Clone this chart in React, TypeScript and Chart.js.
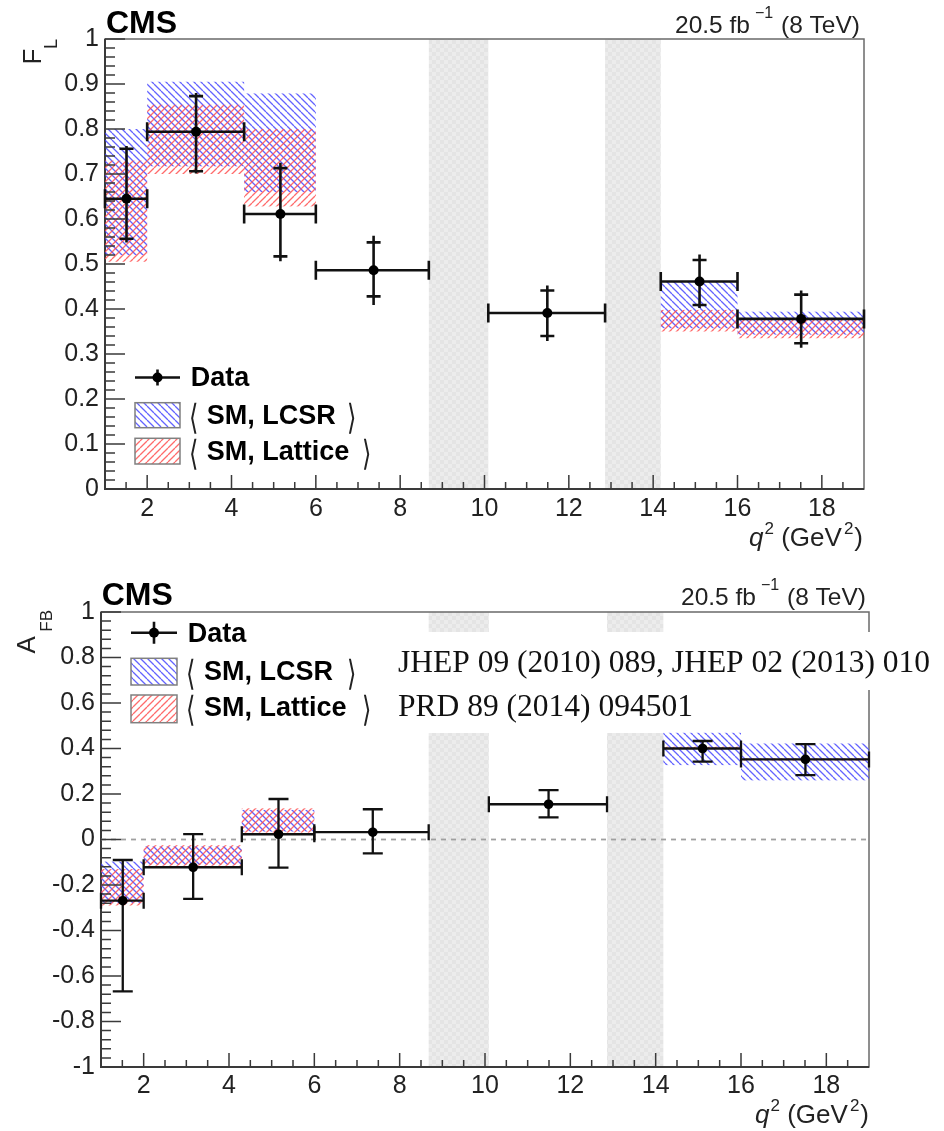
import React, { useEffect, useRef } from "react";
import { Chart, registerables } from "chart.js";

Chart.register(...registerables);

// ---------------- data ----------------
const binLow = [1, 2, 4.3, 6, 10.09, 14.18, 16];
const binHigh = [2, 4.3, 6, 8.68, 12.86, 16, 19];
const binCenter = [1.51, 3.16, 5.16, 7.37, 11.49, 15.1, 17.51];
const vetoLow = [8.68, 12.86];
const vetoHigh = [10.09, 14.18];
const xTicks = [2, 4, 6, 8, 10, 12, 14, 16, 18];

const flValue = [0.645, 0.794, 0.611, 0.486, 0.391, 0.461, 0.378];
const flStatHigh = [0.756, 0.873, 0.713, 0.548, 0.441, 0.509, 0.432];
const flStatLow = [0.556, 0.706, 0.517, 0.428, 0.34, 0.409, 0.324];
const flTotHigh = [0.762, 0.88, 0.725, 0.563, 0.452, 0.521, 0.441];
const flTotLow = [0.548, 0.701, 0.506, 0.409, 0.329, 0.402, 0.314];
const flLcsrLow = [0.52, 0.717, 0.66, null, null, 0.357, 0.343];
const flLcsrHigh = [0.8, 0.905, 0.879, null, null, 0.461, 0.394];
const flLatLow = [0.505, 0.7, 0.628, null, null, 0.35, 0.335];
const flLatHigh = [0.73, 0.854, 0.8, null, null, 0.398, 0.376];
const flTicks = [0, 0.1, 0.2, 0.3, 0.4, 0.5, 0.6, 0.7, 0.8, 0.9, 1];

const afbValue = [-0.269, -0.122, 0.023, 0.032, 0.155, 0.4, 0.352];
const afbTotHigh = [-0.09, 0.024, 0.178, 0.133, 0.217, 0.433, 0.419];
const afbTotLow = [-0.668, -0.261, -0.124, -0.061, 0.097, 0.342, 0.283];
const afbLcsrLow = [-0.28, -0.11, 0.035, null, null, 0.327, 0.26];
const afbLcsrHigh = [-0.097, -0.03, 0.13, null, null, 0.469, 0.422];
const afbLatLow = [-0.29, -0.115, 0.03, null, null, 0.398, 0.347];
const afbLatHigh = [-0.13, -0.025, 0.137, null, null, 0.408, 0.357];
const afbTicks = [-1, -0.8, -0.6, -0.4, -0.2, 0, 0.2, 0.4, 0.6, 0.8, 1];

const legendLabels = ["Data", "SM, LCSR", "SM, Lattice"];
const refLines = ["JHEP 09 (2010) 089, JHEP 02 (2013) 010", "PRD 89 (2014) 094501"];

// ---------------- styling ----------------
const SANS = "'Liberation Sans', Arial, Helvetica, sans-serif";
const SERIF = "'Liberation Serif', 'Times New Roman', serif";
const BRK = "'DejaVu Sans', sans-serif";
const W = 944;

function makePatterns(ctx: any) {
  const mk = (w: number, h: number, draw: (g: any) => void) => {
    const c = document.createElement("canvas");
    c.width = w;
    c.height = h;
    draw(c.getContext("2d"));
    return ctx.createPattern(c, "repeat");
  };
  const hatch = (color: string, back: boolean) =>
    mk(7, 7, (g) => {
      g.strokeStyle = color;
      g.lineWidth = 1.3;
      g.beginPath();
      for (const o of [-7, 0, 7]) {
        if (back) {
          g.moveTo(o, 0);
          g.lineTo(o + 7, 7);
        } else {
          g.moveTo(o, 7);
          g.lineTo(o + 7, 0);
        }
      }
      g.stroke();
    });
  return {
    blue: hatch("rgba(60,60,255,0.8)", true),
    red: hatch("rgba(255,70,70,0.8)", false),
    gray: mk(8, 8, (g) => {
      g.fillStyle = "#e4e4e4";
      g.fillRect(0, 0, 8, 8);
      g.fillStyle = "#ececec";
      g.fillRect(0, 0, 4, 4);
      g.fillRect(4, 4, 4, 4);
    }),
  };
}

type Seg = { t: string; font: string; dy?: number; dx?: number };
function drawSegs(ctx: any, segs: Seg[], x: number, y: number, align: "left" | "right") {
  ctx.textAlign = "left";
  ctx.textBaseline = "alphabetic";
  const widths = segs.map((s) => {
    ctx.font = s.font;
    return ctx.measureText(s.t).width + (s.dx || 0);
  });
  const total = widths.reduce((a, b) => a + b, 0);
  let cx = align === "right" ? x - total : x;
  segs.forEach((s, i) => {
    ctx.font = s.font;
    ctx.fillText(s.t, cx + (s.dx || 0), y + (s.dy || 0));
    cx += widths[i];
  });
}

type Cfg = {
  kind: "fl" | "afb";
  height: number;
  frame: { left: number; top: number; right: number; bottom: number };
  yMin: number;
  yMax: number;
  yTicks: number[];
  yMinor: number;
  value: number[];
  totHigh: number[];
  totLow: number[];
  statHigh?: number[];
  statLow?: number[];
  lcsrLow: (number | null)[];
  lcsrHigh: (number | null)[];
  latLow: (number | null)[];
  latHigh: (number | null)[];
  xLabelPad: number;
};

function buildChart(canvas: HTMLCanvasElement, P: Cfg) {
  const pat = makePatterns(canvas.getContext("2d"));
  const isFL = P.kind === "fl";

  const plugin = {
    id: "rootStyle",
    beforeDatasetsDraw(chart: any) {
      const { ctx, chartArea: a } = chart;
      const xs = chart.scales.x;
      const ys = chart.scales.y;
      const px = (v: number) => xs.getPixelForValue(v);
      const py = (v: number) => ys.getPixelForValue(v);
      ctx.save();
      // veto regions
      ctx.fillStyle = pat.gray;
      vetoLow.forEach((lo, i) => {
        const x0 = px(lo);
        const x1 = px(vetoHigh[i]);
        ctx.fillRect(x0, a.top, x1 - x0, a.bottom - a.top);
      });
      // frame
      ctx.strokeStyle = "#6a6a6a";
      ctx.lineWidth = 1.5;
      ctx.strokeRect(a.left, a.top, a.right - a.left, a.bottom - a.top);
      ctx.strokeStyle = "#3a3a3a";
      ctx.lineWidth = 2;
      ctx.beginPath();
      ctx.moveTo(a.left, a.top);
      ctx.lineTo(a.left, a.bottom);
      ctx.lineTo(a.right, a.bottom);
      ctx.stroke();

      if (!isFL) {
        // white box of pasted reference text
        ctx.fillStyle = "#ffffff";
        ctx.fillRect(385, 72, 560, 58);
        ctx.fillRect(385, 130, 315, 43);
        // zero line
        ctx.strokeStyle = "#a0a0a0";
        ctx.lineWidth = 1.8;
        ctx.setLineDash([5, 5]);
        ctx.beginPath();
        ctx.moveTo(a.left, py(0));
        ctx.lineTo(a.right, py(0));
        ctx.stroke();
        ctx.setLineDash([]);
      }

      // prediction bands
      const band = (lo: (number | null)[], hi: (number | null)[], fill: any) => {
        ctx.fillStyle = fill;
        lo.forEach((l, i) => {
          const h = hi[i];
          if (l === null || h === null) return;
          const x0 = px(binLow[i]);
          const x1 = px(binHigh[i]);
          ctx.fillRect(x0, py(h), x1 - x0, py(l) - py(h));
        });
      };
      band(P.lcsrLow, P.lcsrHigh, pat.blue);
      band(P.latLow, P.latHigh, pat.red);

      // ticks (inside)
      ctx.strokeStyle = "#3a3a3a";
      ctx.lineWidth = 1.5;
      ctx.beginPath();
      const yMaj = 20;
      const yMin = 10;
      const xMaj = 14;
      const xMin = 7;
      for (let v = P.yMin; v <= P.yMax + 1e-9; v += P.yMinor) {
        const major = P.yTicks.some((t) => Math.abs(t - v) < 1e-6);
        const y = py(v);
        ctx.moveTo(a.left, y);
        ctx.lineTo(a.left + (major ? yMaj : yMin), y);
      }
      for (let v = 1.5; v < 19; v += 0.5) {
        const major = xTicks.some((t) => Math.abs(t - v) < 1e-6);
        const x = px(v);
        ctx.moveTo(x, a.bottom);
        ctx.lineTo(x, a.bottom - (major ? xMaj : xMin));
      }
      ctx.stroke();

      // error bars
      ctx.strokeStyle = "#111";
      const lw = isFL ? 2.6 : 2.3;
      const capV = isFL ? 7 : 10;
      const capH = isFL ? 9.5 : 8;
      P.value.forEach((v, i) => {
        const y = py(v);
        const x0 = px(binLow[i]);
        const x1 = px(binHigh[i]);
        const xc = px(binCenter[i]);
        ctx.lineWidth = lw;
        ctx.beginPath();
        ctx.moveTo(x0, y);
        ctx.lineTo(x1, y);
        ctx.moveTo(x0, y - capH);
        ctx.lineTo(x0, y + capH);
        ctx.moveTo(x1, y - capH);
        ctx.lineTo(x1, y + capH);
        ctx.moveTo(xc, py(P.totHigh[i]));
        ctx.lineTo(xc, py(P.totLow[i]));
        if (P.statHigh && P.statLow) {
          ctx.moveTo(xc - capV, py(P.statHigh[i]));
          ctx.lineTo(xc + capV, py(P.statHigh[i]));
          ctx.moveTo(xc - capV, py(P.statLow[i]));
          ctx.lineTo(xc + capV, py(P.statLow[i]));
        } else {
          ctx.moveTo(xc - capV, py(P.totHigh[i]));
          ctx.lineTo(xc + capV, py(P.totHigh[i]));
          ctx.moveTo(xc - capV, py(P.totLow[i]));
          ctx.lineTo(xc + capV, py(P.totLow[i]));
        }
        ctx.stroke();
      });
      ctx.restore();
    },
    afterDatasetsDraw(chart: any) {
      const { ctx } = chart;
      ctx.save();
      ctx.fillStyle = "#000";
      const f = (w: string, s: number, fam = SANS) => `${w} ${s}px ${fam}`;
      const L = isFL
        ? {
            cms: [106, 33], lumiR: 860, lumiY: 33, xtR: 863, xtY: 546,
            bx: 135, bw: 45, dataY: 377.5, dataTxt: [190.7, 386], dataV: 8,
            box1: [402.7, 25], box2: [438.3, 25.7], t1Y: 424, t2Y: 460,
            smX: 206.7, lbX: 189, rb1: 347, rb2: 362,
          }
        : {
            cms: [101.7, 45], lumiR: 866, lumiY: 45, xtR: 869, xtY: 563,
            bx: 131, bw: 46, dataY: 72.7, dataTxt: [187.7, 81.7], dataV: 11,
            box1: [98.3, 26.7], box2: [135, 27.7], t1Y: 120, t2Y: 156,
            smX: 204, lbX: 186, rb1: 347, rb2: 362,
          };
      // CMS label
      ctx.font = f("bold", 32);
      ctx.textAlign = "left";
      ctx.textBaseline = "alphabetic";
      ctx.fillText("CMS", L.cms[0], L.cms[1]);
      // luminosity
      ctx.fillStyle = "#222";
      drawSegs(
        ctx,
        [
          { t: "20.5 fb", font: f("normal", 24.5) },
          { t: "\u22121", font: f("normal", 16), dy: -15, dx: 5 },
          { t: " (8 TeV)", font: f("normal", 24.5), dx: 1 },
        ],
        L.lumiR, L.lumiY, "right"
      );
      // x title
      drawSegs(
        ctx,
        [
          { t: "q", font: f("italic", 26) },
          { t: "2", font: f("normal", 17), dy: -12, dx: 1 },
          { t: " (GeV", font: f("normal", 26) },
          { t: "2", font: f("normal", 17), dy: -12, dx: 2 },
          { t: ")", font: f("normal", 26), dx: 1 },
        ],
        L.xtR, L.xtY, "right"
      );
      // y title (rotated)
      const rot = (t: string, x: number, y: number, font: string) => {
        ctx.save();
        ctx.translate(x, y);
        ctx.rotate(-Math.PI / 2);
        ctx.font = font;
        ctx.textAlign = "left";
        ctx.textBaseline = "alphabetic";
        ctx.fillText(t, 0, 0);
        ctx.restore();
      };
      if (isFL) {
        rot("F", 41, 64.5, f("normal", 26));
        rot("L", 57, 49, f("normal", 18));
      } else {
        rot("A", 35, 93.5, f("normal", 26));
        rot("FB", 52, 71.7, f("normal", 17));
      }
      // legend
      ctx.fillStyle = "#000";
      ctx.strokeStyle = "#111";
      ctx.lineWidth = 2.6;
      ctx.beginPath();
      ctx.moveTo(L.bx, L.dataY);
      ctx.lineTo(L.bx + L.bw, L.dataY);
      ctx.moveTo(L.bx + L.bw / 2, L.dataY - L.dataV);
      ctx.lineTo(L.bx + L.bw / 2, L.dataY + L.dataV);
      ctx.stroke();
      ctx.beginPath();
      ctx.arc(L.bx + L.bw / 2, L.dataY, 5, 0, Math.PI * 2);
      ctx.fill();
      ctx.font = f("bold", 27);
      ctx.textAlign = "left";
      ctx.fillText(legendLabels[0], L.dataTxt[0], L.dataTxt[1]);
      const box = (y: number, h: number, fill: any) => {
        ctx.fillStyle = fill;
        ctx.fillRect(L.bx, y, L.bw, h);
        ctx.strokeStyle = "#808080";
        ctx.lineWidth = 1.5;
        ctx.strokeRect(L.bx, y, L.bw, h);
      };
      box(L.box1[0], L.box1[1], pat.blue);
      box(L.box2[0], L.box2[1], pat.red);
      ctx.fillStyle = "#000";
      ctx.font = f("bold", 27);
      ctx.fillText(legendLabels[1], L.smX, L.t1Y);
      ctx.fillText(legendLabels[2], L.smX, L.t2Y);
      // tall thin angle brackets
      const brk = (ch: string, x: number, baseY: number) => {
        ctx.save();
        ctx.translate(x, baseY + 5);
        ctx.scale(1, 1.45);
        ctx.font = f("normal", 24, BRK);
        ctx.textAlign = "left";
        ctx.textBaseline = "alphabetic";
        ctx.fillStyle = "#222";
        ctx.fillText(ch, 0, 0);
        ctx.restore();
      };
      brk("\u27E8", L.lbX, L.t1Y);
      brk("\u27E8", L.lbX, L.t2Y);
      brk("\u27E9", L.rb1, L.t1Y);
      brk("\u27E9", L.rb2, L.t2Y);
      if (!isFL) {
        ctx.fillStyle = "#111";
        ctx.font = f("normal", 31.5, SERIF);
        ctx.fillText(refLines[0], 398, 112);
        ctx.fillText(refLines[1], 398, 156);
      }
      ctx.restore();
    },
  };

  return new Chart(canvas, {
    type: "scatter",
    data: {
      datasets: [
        {
          label: legendLabels[0],
          data: binCenter.map((x, i) => ({ x, y: P.value[i] })),
          pointRadius: isFL ? 5 : 4.8,
          pointBackgroundColor: "#000",
          pointBorderWidth: 0,
          showLine: false,
        },
      ],
    },
    options: {
      responsive: false,
      animation: false,
      devicePixelRatio: 1,
      events: [],
      layout: { padding: { left: 0, top: P.frame.top, right: W - P.frame.right, bottom: 0 } },
      plugins: { legend: { display: false }, tooltip: { enabled: false }, title: { display: false } },
      scales: {
        x: {
          type: "linear",
          position: "bottom",
          min: 1,
          max: 19,
          bounds: "data",
          grid: { display: false, drawTicks: false },
          border: { display: false },
          ticks: {
            font: { family: SANS, size: 25 },
            color: "#222",
            padding: P.xLabelPad,
            maxRotation: 0,
            autoSkip: false,
            callback: (v: any) => String(v),
          },
          afterBuildTicks: (s: any) => {
            s.ticks = xTicks.map((v) => ({ value: v }));
          },
          afterFit: (s: any) => {
            s.height = P.height - P.frame.bottom;
          },
        },
        y: {
          type: "linear",
          position: "left",
          min: P.yMin,
          max: P.yMax,
          bounds: "data",
          grid: { display: false, drawTicks: false },
          border: { display: false },
          ticks: {
            font: { family: SANS, size: 25 },
            color: "#222",
            padding: 6,
            autoSkip: false,
            callback: (v: any) => String(Math.round(v * 10) / 10),
          },
          afterBuildTicks: (s: any) => {
            s.ticks = P.yTicks.map((v) => ({ value: v }));
          },
          afterFit: (s: any) => {
            s.width = P.frame.left;
          },
        },
      },
    },
    plugins: [plugin],
  } as any);
}

const topCfg: Cfg = {
  kind: "fl",
  height: 560,
  frame: { left: 105, top: 39, right: 864, bottom: 489 },
  yMin: 0,
  yMax: 1,
  yTicks: flTicks,
  yMinor: 0.02,
  value: flValue,
  totHigh: flTotHigh,
  totLow: flTotLow,
  statHigh: flStatHigh,
  statLow: flStatLow,
  lcsrLow: flLcsrLow,
  lcsrHigh: flLcsrHigh,
  latLow: flLatLow,
  latHigh: flLatHigh,
  xLabelPad: 5,
};

const bottomCfg: Cfg = {
  kind: "afb",
  height: 571,
  frame: { left: 101, top: 52, right: 869, bottom: 507 },
  yMin: -1,
  yMax: 1,
  yTicks: afbTicks,
  yMinor: 0.04,
  value: afbValue,
  totHigh: afbTotHigh,
  totLow: afbTotLow,
  lcsrLow: afbLcsrLow,
  lcsrHigh: afbLcsrHigh,
  latLow: afbLatLow,
  latHigh: afbLatHigh,
  xLabelPad: 4,
};

function Panel({ cfg, top }: { cfg: Cfg; top: number }) {
  const ref = useRef<HTMLCanvasElement>(null);
  useEffect(() => {
    if (!ref.current) return;
    const chart = buildChart(ref.current, cfg);
    return () => chart.destroy();
  }, [cfg]);
  return (
    <canvas
      ref={ref}
      width={W}
      height={cfg.height}
      style={{ position: "absolute", left: 0, top, width: W, height: cfg.height, display: "block" }}
    />
  );
}

export default function App() {
  return (
    <div style={{ position: "absolute", left: 0, top: 0, width: W, height: 1131, background: "#fff", overflow: "hidden" }}>
      <Panel cfg={topCfg} top={0} />
      <Panel cfg={bottomCfg} top={560} />
    </div>
  );
}
